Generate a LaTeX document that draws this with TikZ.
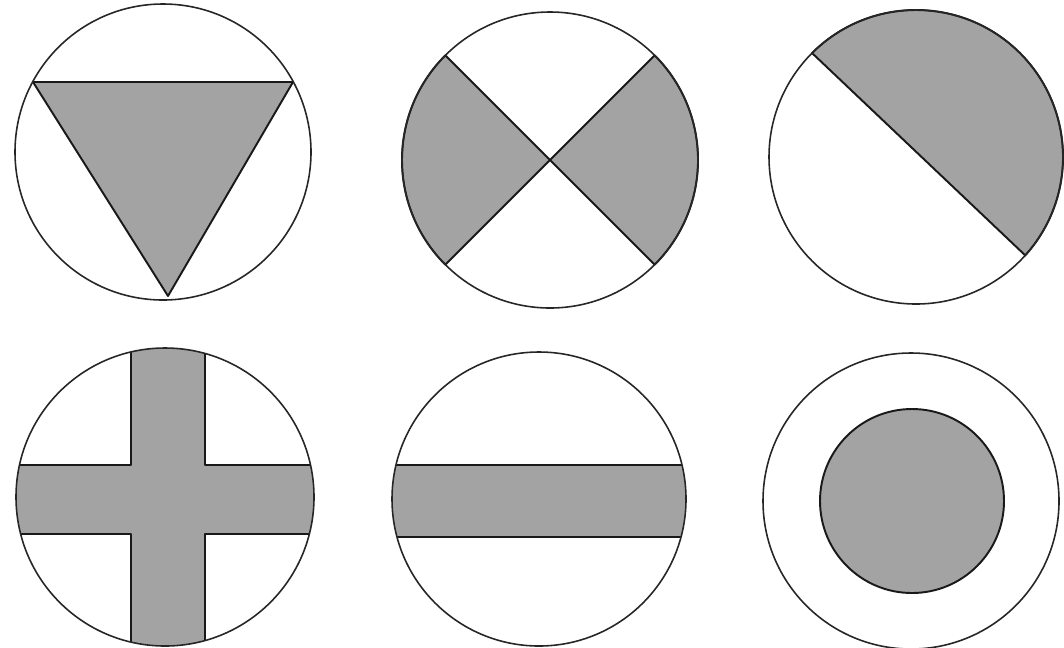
\documentclass[tikz,border=0pt]{standalone}
\usepackage{tikz}
\begin{document}
\begin{tikzpicture}[x=0.02cm,y=-0.02cm,
        kreis/.style={line width=0.9pt, black!85},
        raster/.style={fill=black!36, draw=black!90, line width=1.1pt, line join=round}]
        \useasboundingbox (0,0) rectangle (1064,647);

        % Mittelpunkte
        \coordinate (M1) at (163,152);
        \coordinate (M2) at (550,160);
        \coordinate (M3) at (916,157);
        \coordinate (M4) at (165,497);
        \coordinate (M5) at (539,499);
        \coordinate (M6) at (911,501);

        % Dreieck
        \filldraw[raster] (33,82) -- (293,82) -- (168,296) -- cycle;
        \draw[kreis] (M1) circle[radius=148];

        % Kreuz (Sektoren)
        \filldraw[raster] (M2) -- ++(135:148) arc[start angle=135, end angle=225, radius=148] -- cycle;
        \filldraw[raster] (M2) -- ++(-45:148) arc[start angle=-45, end angle=45, radius=148] -- cycle;
        \draw[kreis] (M2) circle[radius=148];

        % Halbkreis
        \filldraw[raster] (M3) ++(42:147) arc[start angle=42, end angle=-135, radius=147] -- cycle;
        \draw[kreis] (M3) circle[radius=147];

        % Balkenkreuz
        \begin{scope}
            \clip (M4) circle[radius=149];
            \filldraw[raster] (131,330) -- (131,465) -- (0,465) -- (0,534) -- (131,534) -- (131,660)
                -- (205,660) -- (205,534) -- (330,534) -- (330,465) -- (205,465) -- (205,330) -- cycle;
        \end{scope}
        \draw[kreis] (M4) circle[radius=149];

        % Querbalken
        \begin{scope}
            \clip (M5) circle[radius=147];
            \filldraw[raster] (380,465) rectangle (700,537);
        \end{scope}
        \draw[kreis] (M5) circle[radius=147];

        % Ring mit Scheibe
        \draw[kreis] (M6) circle[radius=148];
        \filldraw[raster] (912,501) circle[radius=92];

    \end{tikzpicture}
\end{document}
